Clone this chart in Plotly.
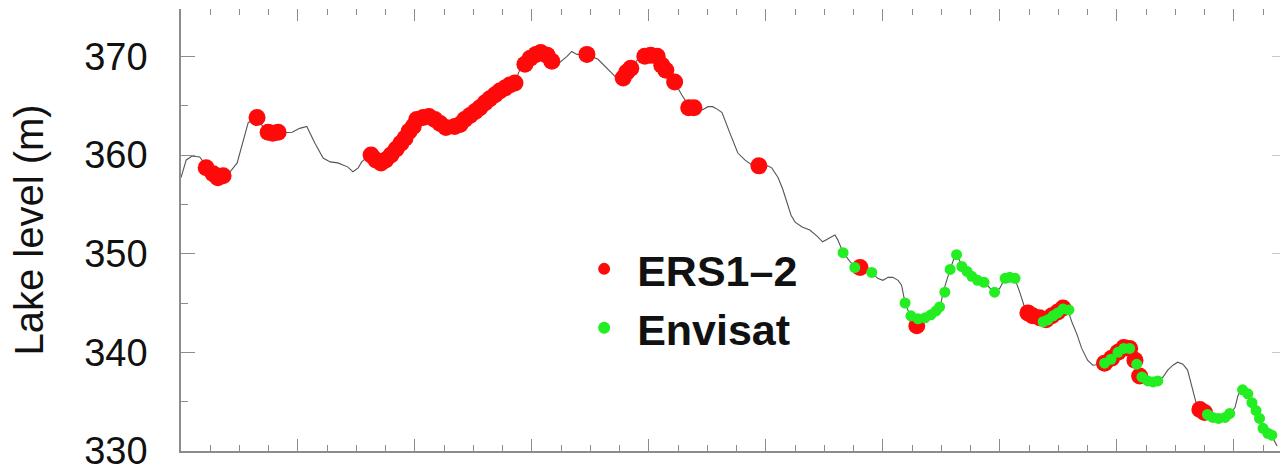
import plotly.graph_objects as go

# Monthly-ish lake level record (decimal year, metres)
line_year = [1992.00, 1992.09, 1992.19, 1992.32, 1992.43, 1992.55, 1992.67, 1992.84, 1992.96, 1993.06,
             1993.15, 1993.30, 1993.44, 1993.66, 1993.90, 1994.03, 1994.15, 1994.29, 1994.43, 1994.55,
             1994.68, 1994.85, 1994.94, 1995.03, 1995.09, 1995.20, 1995.32, 1995.44, 1995.57, 1995.69,
             1995.83, 1995.95, 1996.09, 1996.22, 1996.39, 1996.55, 1996.68, 1996.80, 1996.94, 1997.11,
             1997.28, 1997.45, 1997.62, 1997.73, 1997.79, 1997.88, 1998.00, 1998.14, 1998.26, 1998.36,
             1998.48, 1998.60, 1998.68, 1998.77, 1998.94, 1999.13, 1999.28, 1999.45, 1999.54, 1999.62,
             1999.73, 1999.85, 1999.97, 2000.10, 2000.19, 2000.27, 2000.36, 2000.44, 2000.56, 2000.70,
             2000.82, 2000.92, 2001.01, 2001.09, 2001.18, 2001.25, 2001.38, 2001.52, 2001.64, 2001.76,
             2001.90, 2002.03, 2002.10, 2002.21, 2002.29, 2002.36, 2002.43, 2002.50, 2002.62, 2002.75,
             2002.87, 2002.97, 2003.08, 2003.18, 2003.23, 2003.32, 2003.44, 2003.56, 2003.68, 2003.81,
             2003.91, 2004.00, 2004.09, 2004.17, 2004.26, 2004.32, 2004.38, 2004.46, 2004.55, 2004.68,
             2004.80, 2004.92, 2004.99, 2005.03, 2005.09, 2005.15, 2005.21, 2005.26, 2005.32, 2005.37,
             2005.49, 2005.62, 2005.74, 2005.83, 2005.91, 2006.00, 2006.07, 2006.17, 2006.26, 2006.34,
             2006.41, 2006.48, 2006.60, 2006.72, 2006.80, 2006.89, 2006.97, 2007.08, 2007.16, 2007.23,
             2007.32, 2007.40, 2007.50, 2007.59, 2007.71, 2007.79, 2007.88, 2007.97, 2008.05, 2008.14,
             2008.22, 2008.31, 2008.39, 2008.48, 2008.56, 2008.68, 2008.79, 2008.87, 2008.96, 2009.04,
             2009.13, 2009.21, 2009.28, 2009.35, 2009.42, 2009.50, 2009.59, 2009.68, 2009.79, 2009.93,
             2010.02, 2010.07, 2010.14, 2010.22, 2010.31, 2010.38, 2010.44, 2010.51, 2010.58, 2010.65,
             2010.74]
line_level = [357.7, 359.5, 359.9, 359.8, 358.9, 358.0, 357.9, 358.3, 359.2, 361.5,
              363.3, 363.6, 362.6, 362.2, 362.3, 362.7, 362.9, 361.2, 359.7, 359.3,
              359.2, 358.8, 358.3, 358.7, 359.3, 359.9, 359.7, 359.1, 359.8, 360.8,
              361.8, 362.9, 363.8, 363.9, 363.4, 362.8, 362.9, 363.4, 364.1, 364.9,
              365.8, 366.5, 367.1, 367.7, 368.6, 369.4, 370.2, 370.4, 370.1, 369.5,
              369.4, 370.0, 370.5, 370.2, 370.2, 369.7, 368.8, 367.8, 367.6, 368.4,
              369.1, 370.0, 370.2, 370.1, 369.7, 368.8, 368.0, 367.4, 366.1, 364.8,
              364.6, 364.6, 364.9, 364.9, 364.6, 364.3, 362.3, 360.2, 359.5, 359.0,
              358.8, 358.9, 358.7, 357.7, 356.5, 355.2, 353.9, 353.2, 352.7, 352.4,
              351.8, 351.2, 351.6, 351.9, 351.4, 350.1, 349.2, 348.4, 348.4, 348.1,
              347.5, 347.3, 347.6, 347.6, 347.3, 346.8, 345.0, 343.8, 343.1, 343.5,
              343.8, 344.3, 344.9, 346.1, 347.3, 348.4, 349.4, 349.9, 349.2, 348.6,
              347.8, 347.3, 347.1, 346.5, 346.0, 346.5, 347.3, 347.5, 347.4, 346.1,
              344.8, 343.8, 343.6, 343.3, 343.1, 343.5, 344.0, 344.5, 344.3, 343.1,
              341.8, 340.4, 339.2, 338.7, 338.8, 339.0, 339.2, 339.7, 340.2, 340.5,
              340.3, 339.2, 337.7, 337.2, 337.0, 337.0, 337.5, 338.2, 338.7, 339.0,
              338.8, 338.2, 336.7, 335.0, 334.2, 333.9, 333.5, 333.3, 333.3, 333.7,
              334.4, 335.6, 336.4, 335.9, 334.9, 334.0, 333.3, 332.3, 331.8, 331.5,
              330.5]

# ERS1-2 altimetry heights
ers_year = [1992.43, 1992.55, 1992.63, 1992.72, 1993.30, 1993.49, 1993.57, 1993.66,
            1995.25, 1995.33, 1995.42, 1995.50, 1995.59, 1995.68, 1995.76, 1995.83, 1995.90, 1995.97,
            1996.03, 1996.14, 1996.24, 1996.34, 1996.43, 1996.53, 1996.68, 1996.77, 1996.85, 1996.94,
            1997.03, 1997.11, 1997.20, 1997.28, 1997.37, 1997.45, 1997.54, 1997.62, 1997.71,
            1997.88, 1997.97, 1998.07, 1998.15, 1998.26, 1998.34, 1998.94,
            1999.56, 1999.62, 1999.69, 1999.93, 2000.03, 2000.14, 2000.22, 2000.29, 2000.44,
            2000.68, 2000.77, 2001.88, 2003.61, 2004.58,
            2006.48, 2006.56, 2006.68, 2006.79, 2006.89, 2006.99, 2007.08,
            2007.79, 2007.91, 2008.02, 2008.12, 2008.22, 2008.31, 2008.39, 2009.42, 2009.50]
ers_level = [358.7, 358.1, 357.7, 357.9, 363.8, 362.3, 362.2, 362.3,
             360.0, 359.5, 359.2, 359.5, 360.0, 360.6, 361.2, 361.7, 362.4, 362.9,
             363.6, 363.8, 363.9, 363.6, 363.2, 362.8, 362.9, 363.1, 363.6, 364.0,
             364.4, 364.8, 365.3, 365.7, 366.1, 366.5, 366.8, 367.1, 367.3,
             369.2, 369.8, 370.2, 370.4, 370.1, 369.5, 370.2,
             367.8, 368.4, 368.8, 370.0, 370.1, 370.0, 369.1, 368.6, 367.4,
             364.8, 364.8, 358.9, 348.6, 342.7,
             344.0, 343.7, 343.5, 343.3, 343.7, 344.1, 344.5,
             338.9, 339.4, 340.0, 340.5, 340.4, 339.2, 337.6, 334.2, 333.9]

# Envisat altimetry heights
env_year = [2003.32, 2003.52, 2003.81, 2004.38, 2004.48, 2004.60, 2004.72, 2004.82, 2004.91,
            2004.97, 2005.06, 2005.15, 2005.26, 2005.35, 2005.44, 2005.52, 2005.62, 2005.73,
            2005.91, 2006.09, 2006.17, 2006.26, 2006.74, 2006.82, 2006.91, 2006.99, 2007.08,
            2007.18, 2007.79, 2007.90, 2008.02, 2008.12, 2008.22, 2008.34, 2008.43, 2008.53,
            2008.62, 2008.70, 2009.55, 2009.64, 2009.74, 2009.85, 2009.93, 2010.15, 2010.24,
            2010.31, 2010.38, 2010.44, 2010.50, 2010.58, 2010.65]
env_level = [350.1, 348.6, 348.1, 345.0, 343.7, 343.4, 343.5, 343.8, 344.2,
             344.6, 346.1, 348.4, 349.9, 348.7, 348.2, 347.7, 347.3, 347.1,
             346.1, 347.5, 347.6, 347.5, 343.1, 343.3, 343.7, 344.0, 344.4,
             344.3, 338.9, 339.3, 340.0, 340.4, 340.4, 338.8, 337.5, 337.1,
             337.0, 337.1, 333.7, 333.4, 333.3, 333.4, 333.8, 336.2, 335.8,
             334.9, 334.1, 333.3, 332.3, 331.8, 331.6]

y_ticks = [330, 340, 350, 360, 370]
X_RANGE = [1992, 2010.79]
Y_RANGE = [330, 374.8]

RED = "#ff0a0a"
GREEN = "#22ee22"
FONT = "Liberation Sans"
AXIS_GREY = "#8c8c8c"

fig = go.Figure()
fig.add_trace(go.Scatter(x=line_year, y=line_level, mode="lines",
                         line=dict(color="#555555", width=1.1),
                         showlegend=False, hoverinfo="skip"))
fig.add_trace(go.Scatter(x=ers_year, y=ers_level, mode="markers",
                         marker=dict(color=RED, size=17, line=dict(width=0)),
                         showlegend=False))
fig.add_trace(go.Scatter(x=env_year, y=env_level, mode="markers",
                         marker=dict(color=GREEN, size=11, line=dict(width=0)),
                         showlegend=False))
# legend keys
fig.add_trace(go.Scatter(x=[None], y=[None], mode="markers", name="ERS1–2",
                         marker=dict(color=RED, size=12)))
fig.add_trace(go.Scatter(x=[None], y=[None], mode="markers", name="Envisat",
                         marker=dict(color=GREEN, size=12)))
# empty trace that anchors the top/right tick-only axes
fig.add_trace(go.Scatter(x=[None], y=[None], xaxis="x2", yaxis="y2",
                         showlegend=False, hoverinfo="skip"))

fig.update_layout(
    width=1280, height=467,
    margin=dict(l=181, r=0, t=9, b=16),
    paper_bgcolor="white", plot_bgcolor="white",
    font=dict(family=FONT, color="#111111"),
    legend=dict(x=0.355, y=0.49, xanchor="left", yanchor="top",
                bgcolor="rgba(0,0,0,0)", borderwidth=0,
                itemwidth=56, tracegroupgap=0,
                font=dict(family=FONT, size=43, color="#111111", weight="bold")),
    xaxis=dict(range=X_RANGE, showgrid=False, zeroline=False, automargin=False,
               showline=True, linecolor=AXIS_GREY, linewidth=1.5,
               ticks="inside", ticklen=12, tickcolor=AXIS_GREY, tickwidth=1.3,
               tick0=1992, dtick=2, showticklabels=False,
               minor=dict(ticks="inside", ticklen=6, dtick=0.5, tick0=1992,
                          tickcolor=AXIS_GREY, tickwidth=1, showgrid=False)),
    xaxis2=dict(range=X_RANGE, overlaying="x", side="top", anchor="y2",
                automargin=False, showgrid=False, zeroline=False, showline=False,
                ticks="inside", ticklen=12, tickcolor=AXIS_GREY, tickwidth=1.3,
                tick0=1992, dtick=2, showticklabels=False,
                minor=dict(ticks="inside", ticklen=6, dtick=0.5, tick0=1992,
                           tickcolor=AXIS_GREY, tickwidth=1, showgrid=False)),
    yaxis=dict(range=Y_RANGE, showgrid=False, zeroline=False, automargin=False,
               showline=True, linecolor=AXIS_GREY, linewidth=1.5,
               ticks="inside", ticklen=14, tickcolor=AXIS_GREY, tickwidth=1.3,
               tickvals=y_ticks, ticklabelstandoff=24, ticklabeloverflow="allow",
               tickfont=dict(family=FONT, size=38, color="#111111"),
               minor=dict(ticks="inside", ticklen=7, dtick=5, tick0=330,
                          tickcolor=AXIS_GREY, tickwidth=1, showgrid=False),
               title=dict(text="Lake level (m)", standoff=28,
                          font=dict(family=FONT, size=40, color="#111111"))),
    yaxis2=dict(range=Y_RANGE, overlaying="y", side="right", anchor="x2",
                automargin=False, showgrid=False, zeroline=False, showline=False,
                ticks="inside", ticklen=8, tickcolor="#c8c8c8", tickwidth=1,
                tickvals=y_ticks, showticklabels=False),
)

fig.write_html("out.html")
